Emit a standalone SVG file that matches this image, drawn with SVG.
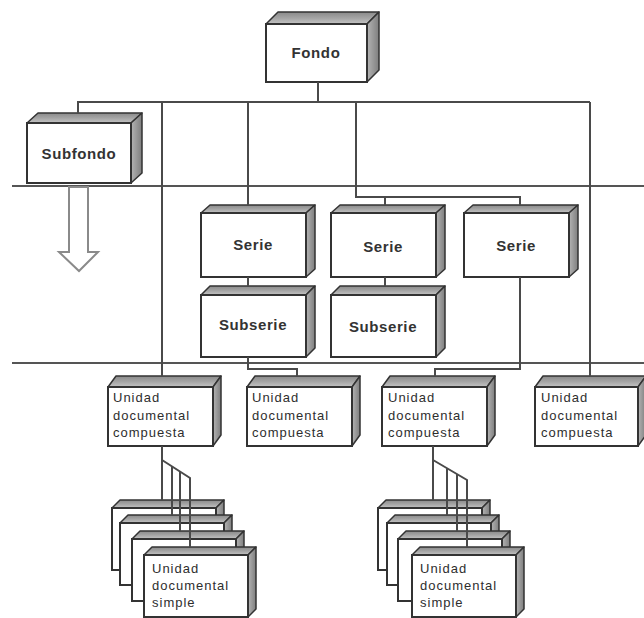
<svg xmlns="http://www.w3.org/2000/svg" width="644" height="618" viewBox="0 0 644 618">
<defs>
<linearGradient id="gt" x1="0" y1="1" x2="0" y2="0">
<stop offset="0" stop-color="#c4c4c4"/>
<stop offset="0.5" stop-color="#a4a4a4"/>
<stop offset="1" stop-color="#8a8a8a"/>
</linearGradient>
<linearGradient id="gs" x1="0" y1="0" x2="1" y2="0">
<stop offset="0" stop-color="#b4b4b4"/>
<stop offset="1" stop-color="#7e7e7e"/>
</linearGradient>
</defs>
<style>
.front{fill:#fff;stroke:#333;stroke-width:2}
.top{fill:url(#gt);stroke:#333;stroke-width:1.5;stroke-linejoin:round}
.side{fill:url(#gs);stroke:#333;stroke-width:1.5;stroke-linejoin:round}
.lbl{font-family:"Liberation Sans",Arial,sans-serif;font-weight:bold;font-size:15px;letter-spacing:0.6px;fill:#333;text-anchor:middle}
.sm{font-family:"Liberation Sans",Arial,sans-serif;font-size:13px;letter-spacing:1px;fill:#2e2e2e}
.ln{fill:none;stroke:#4a4a4a;stroke-width:2}
.sep{fill:none;stroke:#555;stroke-width:2}
</style>
<rect width="644" height="618" fill="#fff"/>
<g id="separators">
<line class="sep" x1="12" y1="186" x2="644" y2="186"/>
<line class="sep" x1="12" y1="363" x2="644" y2="363"/>
</g>
<g id="fondo">
<polygon class="top" points="266,24 278,12 379,12 367,24"/>
<polygon class="side" points="367,24 379,12 379,70 367,82"/>
<rect class="front" x="266" y="24" width="101" height="58"/>
<text class="lbl" x="316" y="58">Fondo</text>
</g>
<g id="subfondo">
<polygon class="top" points="27,123 38,113 142,113 131,123"/>
<polygon class="side" points="131,123 142,113 142,173 131,183"/>
<rect class="front" x="27" y="123" width="104" height="60"/>
<text class="lbl" x="79" y="159">Subfondo</text>
</g>
<g id="subfondo-arrow">
<polygon points="69,187 69,252 59,252 79,271 98,252 88,252 88,187" fill="#fff" stroke="#8a8a8a" stroke-width="2" stroke-linejoin="miter"/>
</g>
<g id="serie1">
<polygon class="top" points="201,213 210,205 315,205 306,213"/>
<polygon class="side" points="306,213 315,205 315,269 306,277"/>
<rect class="front" x="201" y="213" width="105" height="64"/>
<text class="lbl" x="253" y="250">Serie</text>
</g>
<g id="serie2">
<polygon class="top" points="331,213 340,205 445,205 436,213"/>
<polygon class="side" points="436,213 445,205 445,269 436,277"/>
<rect class="front" x="331" y="213" width="105" height="64"/>
<text class="lbl" x="383" y="252">Serie</text>
</g>
<g id="serie3">
<polygon class="top" points="464,213 473,205 578,205 569,213"/>
<polygon class="side" points="569,213 578,205 578,269 569,277"/>
<rect class="front" x="464" y="213" width="105" height="64"/>
<text class="lbl" x="516" y="251">Serie</text>
</g>
<g id="subserie1">
<polygon class="top" points="201,295 210,286 315,286 306,295"/>
<polygon class="side" points="306,295 315,286 315,348 306,357"/>
<rect class="front" x="201" y="295" width="105" height="62"/>
<text class="lbl" x="253" y="330">Subserie</text>
</g>
<g id="subserie2">
<polygon class="top" points="331,295 340,286 445,286 436,295"/>
<polygon class="side" points="436,295 445,286 445,348 436,357"/>
<rect class="front" x="331" y="295" width="105" height="62"/>
<text class="lbl" x="383" y="332">Subserie</text>
</g>
<g id="udc1">
<polygon class="top" points="108,387 116,376 221,376 213,387"/>
<polygon class="side" points="213,387 221,376 221,435 213,446"/>
<rect class="front" x="108" y="387" width="105" height="59"/>
<text class="sm" x="113" y="402">Unidad</text>
<text class="sm" x="113" y="420">documental</text>
<text class="sm" x="113" y="437">compuesta</text>
</g>
<g id="udc2">
<polygon class="top" points="247,387 255,376 360,376 352,387"/>
<polygon class="side" points="352,387 360,376 360,435 352,446"/>
<rect class="front" x="247" y="387" width="105" height="59"/>
<text class="sm" x="252" y="402">Unidad</text>
<text class="sm" x="252" y="420">documental</text>
<text class="sm" x="252" y="437">compuesta</text>
</g>
<g id="udc3">
<polygon class="top" points="382,387 390,376 495,376 487,387"/>
<polygon class="side" points="487,387 495,376 495,435 487,446"/>
<rect class="front" x="382" y="387" width="105" height="59"/>
<text class="sm" x="388" y="402">Unidad</text>
<text class="sm" x="388" y="420">documental</text>
<text class="sm" x="388" y="437">compuesta</text>
</g>
<g id="udc4">
<polygon class="top" points="535,387 543,376 646,376 638,387"/>
<polygon class="side" points="638,387 646,376 646,435 638,446"/>
<rect class="front" x="535" y="387" width="103" height="59"/>
<text class="sm" x="541" y="402">Unidad</text>
<text class="sm" x="541" y="420">documental</text>
<text class="sm" x="541" y="437">compuesta</text>
</g>
<g id="uds-stack1">
<polygon class="top" points="112,508 120,500 224,500 216,508"/>
<polygon class="side" points="216,508 224,500 224,562 216,570"/>
<rect class="front" x="112" y="508" width="104" height="62"/>
<polygon class="top" points="120,523 128,515 232,515 224,523"/>
<polygon class="side" points="224,523 232,515 232,577 224,585"/>
<rect class="front" x="120" y="523" width="104" height="62"/>
<polygon class="top" points="132,539 140,531 244,531 236,539"/>
<polygon class="side" points="236,539 244,531 244,593 236,601"/>
<rect class="front" x="132" y="539" width="104" height="62"/>
<polygon class="top" points="144,555 152,547 256,547 248,555"/>
<polygon class="side" points="248,555 256,547 256,609 248,617"/>
<rect class="front" x="144" y="555" width="104" height="62"/>
<text class="sm" x="152" y="573">Unidad</text>
<text class="sm" x="152" y="590">documental</text>
<text class="sm" x="152" y="607">simple</text>
</g>
<g id="uds-stack2">
<polygon class="top" points="378,508 386,500 490,500 482,508"/>
<polygon class="side" points="482,508 490,500 490,562 482,570"/>
<rect class="front" x="378" y="508" width="104" height="62"/>
<polygon class="top" points="387,523 395,515 499,515 491,523"/>
<polygon class="side" points="491,523 499,515 499,577 491,585"/>
<rect class="front" x="387" y="523" width="104" height="62"/>
<polygon class="top" points="398,539 406,531 510,531 502,539"/>
<polygon class="side" points="502,539 510,531 510,593 502,601"/>
<rect class="front" x="398" y="539" width="104" height="62"/>
<polygon class="top" points="412,555 420,547 524,547 516,555"/>
<polygon class="side" points="516,555 524,547 524,609 516,617"/>
<rect class="front" x="412" y="555" width="104" height="62"/>
<text class="sm" x="420" y="573">Unidad</text>
<text class="sm" x="420" y="590">documental</text>
<text class="sm" x="420" y="607">simple</text>
</g>
<g id="connectors">
<line class="ln" x1="318" y1="82" x2="318" y2="102"/>
<polyline class="ln" points="78,113 78,102 590,102"/>
<line class="ln" x1="162" y1="102" x2="162" y2="376"/>
<line class="ln" x1="248" y1="102" x2="248" y2="205"/>
<polyline class="ln" points="356,102 356,197 520,197 520,205"/>
<line class="ln" x1="385" y1="197" x2="385" y2="205"/>
<line class="ln" x1="590" y1="102" x2="590" y2="376"/>
<line class="ln" x1="248" y1="277" x2="248" y2="286"/>
<line class="ln" x1="385" y1="277" x2="385" y2="286"/>
<polyline class="ln" points="248,357 248,369 297,369 297,376"/>
<polyline class="ln" points="520,277 520,369 435,369 435,376"/>
<polyline class="ln" points="162,446 162,500"/>
<polyline class="ln" points="162,460 190,478 190,547"/>
<line class="ln" x1="172" y1="466.4" x2="172" y2="515"/>
<line class="ln" x1="180" y1="471.6" x2="180" y2="531"/>
<polyline class="ln" points="433,446 433,500"/>
<polyline class="ln" points="433,460 467,480 467,547"/>
<line class="ln" x1="447" y1="468.2" x2="447" y2="515"/>
<line class="ln" x1="457" y1="474.1" x2="457" y2="531"/>
</g>
</svg>
